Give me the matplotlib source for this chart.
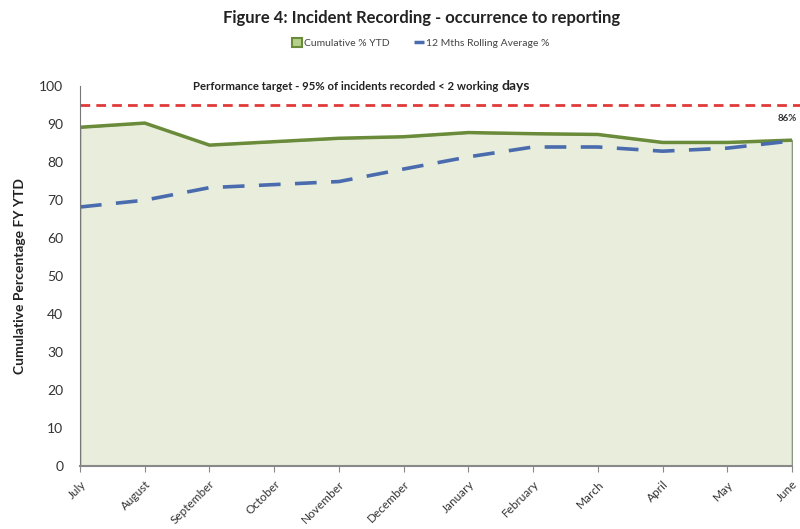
import numpy as np
import matplotlib
matplotlib.use("Agg")
import matplotlib.pyplot as plt
from matplotlib.patches import Patch
from matplotlib.lines import Line2D

plt.rcParams['font.family'] = ['Lato', 'DejaVu Sans']

months = ['July', 'August', 'September', 'October', 'November', 'December',
          'January', 'February', 'March', 'April', 'May', 'June']
cumulative_ytd = [89.2, 90.3, 84.5, 85.4, 86.3, 86.7, 87.8, 87.5, 87.3, 85.2, 85.2, 85.8]
rolling_avg = [68.2, 70.0, 73.3, 74.1, 74.9, 78.2, 81.4, 84.0, 84.0, 82.9, 83.7, 85.6]
target = 95
y_ticks = list(range(0, 101, 10))

green = '#6A8B3A'
fill_green = '#E8EEDB'
blue = '#4A6CAE'
red = '#E03A3A'

fig = plt.figure(figsize=(8, 5.29), dpi=100)
ax = fig.add_axes([0.1, 0.119, 0.89, 0.718])

x = np.arange(len(months))
ax.fill_between(x, cumulative_ytd, 0, facecolor=fill_green, edgecolor='#8a9a80', lw=1.2)
ax.plot(x, cumulative_ytd, color=green, lw=2.5, solid_capstyle='butt')
ax.plot(x, rolling_avg, color=blue, lw=2.6, dashes=(6, 4))
ax.plot([0, 11.15], [target, target], color=red, lw=2, dashes=(3.5, 2.2), clip_on=False)

# target annotation, "days" comes out bigger in the original
t = ax.text(1.75, 100, 'Performance target - 95% of incidents recorded < 2 working ',
            fontsize=8.2, fontweight='bold', color='#222222', va='center', ha='left')
ax.annotate('days', xy=(1, 0.5), xycoords=t, va='center', ha='left',
            fontsize=10, fontweight='bold', color='#222222')
ax.text(11.08, 91.6, '86%', fontsize=7, fontweight='bold', color='#333333',
        va='center', ha='right', clip_on=False)

ax.set_xlim(0, 11)
ax.set_ylim(0, 100)
ax.set_yticks(y_ticks)
ax.set_yticklabels([str(v) for v in y_ticks], fontsize=10, color='#333333')
ax.set_xticks(x)
ax.set_xticklabels(months, rotation=45, ha='right', rotation_mode='anchor',
                   fontsize=8.5, color='#333333')
ax.tick_params(axis='y', length=0, pad=12)
ax.tick_params(axis='x', length=4, color='#888888', pad=5)

for side in ['top', 'right']:
    ax.spines[side].set_visible(False)
ax.spines['left'].set_color('#777777')
ax.spines['bottom'].set_color('#888888')
ax.spines['bottom'].set_linewidth(1.5)

ax.set_ylabel('Cumulative Percentage FY YTD', fontsize=10, fontweight='bold',
              color='#222222')
ax.yaxis.set_label_coords(-0.076, 0.5)

fig.text(0.527, 0.966, 'Figure 4: Incident Recording - occurrence to reporting',
         fontsize=12, fontweight='bold', ha='center', va='center', color='#222222')

handles = [Patch(facecolor='#b5d08a', edgecolor=green, lw=1.5),
           Line2D([0], [0], color=blue, lw=2.5, dashes=(3, 2))]
fig.legend(handles, ['Cumulative % YTD', '12 Mths Rolling Average %'],
           loc='center', bbox_to_anchor=(0.526, 0.919), ncol=2, frameon=False,
           fontsize=7.5, handlelength=0.9, handleheight=0.9, columnspacing=2.4,
           handletextpad=0.2, labelcolor='#444444')

fig.savefig('out.png', dpi=100)
